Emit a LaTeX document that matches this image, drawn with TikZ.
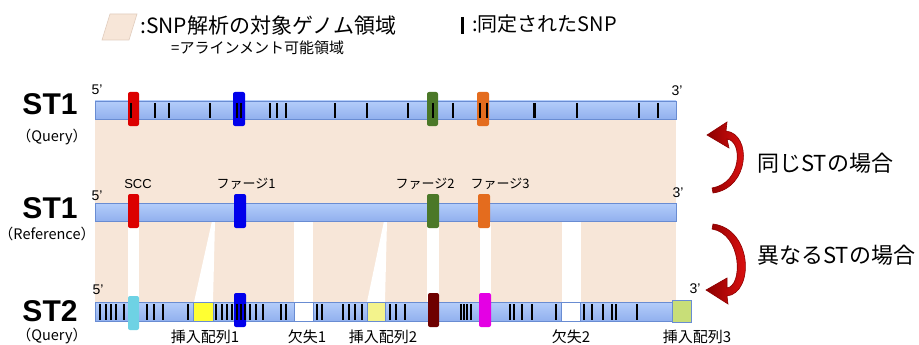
\documentclass[tikz,border=0pt]{standalone}
\usepackage{fontspec}
\setmainfont{Noto Sans CJK JP}
\newfontfamily\lat{Liberation Sans}
\definecolor{pinkbg}{RGB}{247,230,216}
\definecolor{pinkline}{RGB}{225,205,190}
\definecolor{bartop}{RGB}{180,205,250}
\definecolor{barbot}{RGB}{145,176,238}
\definecolor{barline}{RGB}{105,140,210}
\definecolor{mred}{RGB}{220,0,0}
\definecolor{mblue}{RGB}{0,0,235}
\definecolor{mgreen}{RGB}{75,120,40}
\definecolor{morange}{RGB}{228,108,30}
\definecolor{mcyan}{RGB}{110,210,228}
\definecolor{myellow}{RGB}{255,255,50}
\definecolor{mdark}{RGB}{110,0,0}
\definecolor{mmag}{RGB}{228,0,228}
\definecolor{mlyellow}{RGB}{243,243,140}
\definecolor{mgreen3}{RGB}{200,222,120}
\definecolor{arrdark}{RGB}{140,0,0}
\definecolor{arrlight}{RGB}{235,20,20}
\begin{document}
\begin{tikzpicture}[x=1pt,y=-1pt,
  bar/.style={draw=barline, line width=0.7pt, top color=bartop, bottom color=barbot},
  mk/.style={rounded corners=2pt},
  snp/.style={line width=2pt, black},
  box/.style={draw=barline, line width=0.6pt},
  small/.style={inner sep=0pt, font=\fontsize{13}{13}\selectfont},
  prime/.style={inner sep=0pt, font=\lat\fontsize{14}{14}\selectfont},
  stlab/.style={inner sep=0pt, font=\lat\bfseries\fontsize{30}{30}\selectfont},
  sub/.style={inner sep=0pt, font=\fontsize{14.5}{14.5}\selectfont},
  below2/.style={inner sep=0pt, font=\fontsize{15}{15}\selectfont},
  big/.style={inner sep=0pt, anchor=west, font=\fontsize{22}{22}\selectfont},
  arr/.style={draw=arrdark, line width=0.6pt, left color=arrdark, right color=arrlight},
]
\useasboundingbox (0,0) rectangle (919,345);
\fill[white] (0,0) rectangle (919,345);

% legend
\filldraw[fill=pinkbg, draw=pinkline, line width=0.6pt] (102,40) -- (110,14) -- (137,14) -- (129,40) -- cycle;
\node[inner sep=0pt, anchor=west, font=\fontsize{21}{21}\selectfont] (leg1) at (140,26) {:SNP解析の対象ゲノム領域};
\node[inner sep=0pt, anchor=west, font=\fontsize{15}{15}\selectfont] (leg2) at (171,48) {=アラインメント可能領域};
\draw[line width=3pt, black] (462,17) -- (462,34);
\node[inner sep=0pt, anchor=west, font=\fontsize{20}{20}\selectfont] (leg3) at (472,24) {:同定されたSNP};

% pink alignment region
\fill[pinkbg] (95,119) rectangle (676,302);
% white gaps between reference and ST2
\fill[white] (128,221) rectangle (139,302);
\fill[white] (212,221) -- (215,221) -- (213,302) -- (194,302) -- cycle;
\fill[white] (294,221) rectangle (313,302);
\fill[white] (384,221) -- (387,221) -- (385,302) -- (367,302) -- cycle;
\fill[white] (427,221) rectangle (439,302);
\fill[white] (480,221) rectangle (491,302);
\fill[white] (562,221) rectangle (581,302);

% ---------- ST1 query ----------
\node[stlab] (st1q) at (50,104) {ST1};
\node[sub] (qq) at (52,137) {（Query）};
\node[prime] (q5) at (97,90) {5’};
\node[prime] (q3) at (677,91) {3’};
\shade[bar] (95,101) rectangle (676,119);
\fill[mred, mk] (128,92) rectangle (139,126);
\fill[mblue, mk] (233,92) rectangle (245,126);
\fill[mgreen, mk] (427,92) rectangle (438,126);
\fill[morange, mk] (477,92) rectangle (489,126);
\foreach \x in {131,155,169,210,237,241,270,277,286,335,367,408,433,453,480,487,577,639,658}
  \draw[snp] (\x,103) -- (\x,118);
\draw[line width=3pt] (534,103) -- (534,118);

% ---------- ST1 reference ----------
\node[stlab] (st1r) at (50,208) {ST1};
\node[sub] (rr) at (47,234) {（Reference）};
\node[prime] (r5) at (97,196) {5’};
\node[prime] (r3) at (678,193) {3’};
\node[small, font=\lat\fontsize{13}{13}\selectfont] (scc) at (138,184) {SCC};
\node[small] (p1) at (246,184) {ファージ1};
\node[small] (p2) at (425,184) {ファージ2};
\node[small] (p3) at (500,184) {ファージ3};
\shade[bar] (95,203) rectangle (676,221);
\fill[mred, mk] (128,194) rectangle (139,228);
\fill[mblue, mk] (234,194) rectangle (246,228);
\fill[mgreen, mk] (427,194) rectangle (439,228);
\fill[morange, mk] (478,194) rectangle (490,228);

% ---------- ST2 query ----------
\node[stlab] (st2) at (50,311) {ST2};
\node[sub] (q2) at (52,336) {（Query）};
\node[prime] (s5) at (98,290) {5’};
\node[prime] (s3) at (695,289) {3’};
\shade[bar] (95,302) rectangle (691,321);
\filldraw[box, fill=myellow] (193,302) rectangle (213,321);
\filldraw[box, fill=white] (294,302) rectangle (313,321);
\filldraw[box, fill=mlyellow] (367,302) rectangle (385,321);
\filldraw[box, fill=white] (561,302) rectangle (580,321);
\filldraw[box, fill=mgreen3] (672,300) rectangle (691,322);
\fill[mcyan, mk] (128,296) rectangle (139,330);
\fill[mblue, mk] (234,293) rectangle (246,327);
\fill[mdark, mk] (428,293) rectangle (439,327);
\fill[mmag, mk] (479,293) rectangle (491,327);
\foreach \x in {100,106,111,116,124,147,154,163,188,216,222,227,232,237,241,245,250,256,263,281,286,317,322,343,349,355,362,390,396,405,461,464,467,471,510,514,522,532,556,584,592,603,612,616,637}
  \draw[snp] (\x,304) -- (\x,320);
\node[below2] (i1) at (205,337) {挿入配列1};
\node[below2] (d1) at (307,337) {欠失1};
\node[below2] (i2) at (383,337) {挿入配列2};
\node[below2] (d2) at (571,337) {欠失2};
\node[below2] (i3) at (697,337) {挿入配列3};

% ---------- curved arrows ----------
\shade[arr] (713,193) .. controls (750,188) and (752,134) .. (726,131)
  -- (727,122) -- (707,135) -- (729,148) -- (727,139)
  .. controls (743,141) and (742,183) .. (712,188) -- cycle;
\shade[arr] (713,224) .. controls (753,229) and (754,293) .. (727,296)
  -- (728,304) -- (706,290) -- (727,278) -- (727,288)
  .. controls (743,286) and (742,234) .. (712,229) -- cycle;
\node[big] (same) at (757,163) {同じSTの場合};
\node[big] (diff) at (757,255) {異なるSTの場合};
\end{tikzpicture}
\end{document}
